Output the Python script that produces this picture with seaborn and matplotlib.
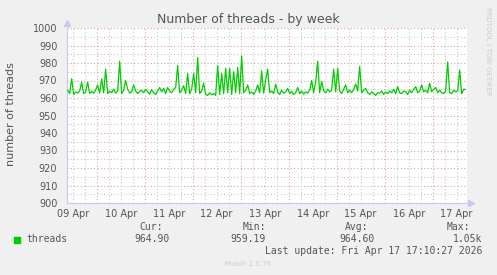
import matplotlib
matplotlib.use("Agg")
import matplotlib.pyplot as plt
import matplotlib.ticker as mticker
import numpy as np
import pandas as pd
import seaborn as sns

# ---------------- data ----------------
# hourly samples, hours since 09 Apr 00:00, starting at 09:30
start_hour = 9.5
threads = [
    964.5, 962.5, 971.0, 962.0, 963.5, 962.8, 964.0, 969.0, 962.5, 963.5,
    969.0, 962.5, 963.8, 962.7, 964.5, 967.5, 962.8, 971.0, 963.0, 976.5,
    962.5, 964.0, 963.0, 965.0, 962.8, 964.0, 981.0, 962.5, 964.5, 970.0,
    965.0, 962.8, 963.5, 967.5, 964.0, 962.5, 963.8, 964.5, 963.0, 965.0,
    963.5, 962.2, 964.8, 963.0, 962.0, 964.0, 966.0, 963.5, 965.5, 962.5,
    966.0, 964.0, 963.0, 965.0, 966.0, 978.5, 963.0, 964.5, 967.0, 962.5,
    974.0, 962.5, 965.0, 974.0, 963.0, 983.0, 962.5, 964.0, 968.5, 962.0,
    961.5, 963.0, 961.8, 962.5, 961.5, 978.5, 962.0, 974.0, 962.5, 977.0,
    963.0, 977.0, 962.0, 975.0, 963.0, 977.5, 962.5, 984.0, 963.0, 964.5,
    967.5, 962.5, 963.5, 962.0, 964.0, 967.5, 963.0, 975.5, 962.8, 970.0,
    976.5, 963.0, 964.0, 962.5, 968.0, 963.5, 962.0, 964.5, 962.8, 963.5,
    965.5, 962.5, 963.8, 962.0, 963.0, 966.0, 962.5, 964.0, 962.2, 963.5,
    962.8, 964.5, 970.0, 963.0, 969.0, 981.0, 963.0, 969.5, 964.0, 963.0,
    965.0, 963.5, 964.5, 976.5, 963.5, 977.0, 964.0, 962.5, 965.0, 967.5,
    963.0, 964.5, 963.0, 965.0, 968.0, 964.0, 978.0, 963.0, 964.5, 965.5,
    963.0, 962.0, 963.5, 962.5, 961.5, 963.0, 962.8, 964.0, 962.0, 963.5,
    962.5, 964.0, 963.0, 965.0, 962.5, 966.5, 963.0, 962.5, 964.0, 963.5,
    962.0, 964.5, 963.0, 965.0, 966.5, 963.0, 964.0, 967.5, 963.5, 964.5,
    963.0, 968.5, 963.5, 965.0, 966.0, 963.0, 964.5, 963.0, 962.5, 964.0,
    980.5, 963.0, 962.5, 964.5, 963.5, 964.0, 976.0, 962.5, 965.0, 964.9,
]
hours = [start_hour + i for i in range(len(threads))]

day_labels = ["09 Apr", "10 Apr", "11 Apr", "12 Apr", "13 Apr",
              "14 Apr", "15 Apr", "16 Apr", "17 Apr"]
y_ticks = [900, 910, 920, 930, 940, 950, 960, 970, 980, 990, 1000]

legend_name = "threads"
stat_headers = ["Cur:", "Min:", "Avg:", "Max:"]
stat_values = ["964.90", "959.19", "964.60", "1.05k"]
title = "Number of threads - by week"
ylabel = "number of threads"
last_update = "Last update: Fri Apr 17 17:10:27 2026"
version = "Munin 2.0.76"
side_text = "RRDTOOL / TOBI OETIKER"

df = pd.DataFrame({"hour": hours, "threads": threads})

# ---------------- figure ----------------
sns.set_theme(style="white")
plt.rcParams["font.family"] = ["DejaVu Sans"]

W, H = 497, 275
fig = plt.figure(figsize=(W / 100, H / 100), dpi=100, facecolor="#F0F0F0")
L, R, T, B = 67, 467, 28, 203
ax = fig.add_axes([L / W, 1 - B / H, (R - L) / W, (B - T) / H])
ax.set_facecolor("white")

sns.lineplot(data=df, x="hour", y="threads", ax=ax, color="#00CC00",
             linewidth=0.9, zorder=3)

x_left = 9.17
x_right = 209.17
ax.set_xlim(x_left, x_right)
ax.set_ylim(900, 1000)

# grid
ax.xaxis.set_major_locator(mticker.MultipleLocator(24))
ax.xaxis.set_minor_locator(mticker.MultipleLocator(6))
ax.xaxis.set_major_formatter(mticker.NullFormatter())

def minor_fmt(v, pos):
    if abs((v - 12) % 24) < 1e-6:
        k = int(round((v - 12) / 24))
        if 0 <= k < len(day_labels):
            return day_labels[k]
    return ""

ax.xaxis.set_minor_formatter(mticker.FuncFormatter(minor_fmt))
ax.yaxis.set_major_locator(mticker.FixedLocator(y_ticks))
ax.yaxis.set_minor_locator(mticker.MultipleLocator(5))

major_c = "#E0A0A0"
minor_c = "#C6C6C6"
ax.grid(which="major", color=major_c, linestyle=(0, (1, 2)), linewidth=0.8, zorder=1)
ax.grid(which="minor", color=minor_c, linestyle=(0, (1, 2)), linewidth=0.8, zorder=1)
ax.set_axisbelow(True)

txt_c = "#555555"
ax.tick_params(axis="y", which="major", labelsize=7, labelcolor=txt_c,
               length=2, color=major_c, pad=5, direction="out")
ax.tick_params(axis="y", which="minor", length=1.5, color=minor_c, direction="out")
ax.tick_params(axis="x", which="minor", labelsize=7, labelcolor=txt_c,
               length=1.5, color=minor_c, pad=3, direction="out")
ax.tick_params(axis="x", which="major", length=2, color=major_c, direction="out")

for s in ["top", "right"]:
    ax.spines[s].set_visible(False)
axis_c = "#C8C8F0"
for s in ["left", "bottom"]:
    ax.spines[s].set_color(axis_c)
    ax.spines[s].set_linewidth(0.8)

# arrows
ax.plot([0], [1.0 + 5 / (B - T)], marker="^", markersize=4, color=axis_c,
        transform=ax.transAxes, clip_on=False)
ax.plot([1.0 + 4 / (R - L)], [0], marker=">", markersize=4, color=axis_c,
        transform=ax.transAxes, clip_on=False)

ax.set_xlabel("")
ax.set_ylabel("")

# texts
fig.text(248 / W, 1 - 19 / H, title, ha="center", va="center",
         fontsize=9, color=txt_c)
fig.text(11 / W, 1 - 114 / H, ylabel, ha="center", va="center",
         rotation=90, fontsize=8, color=txt_c)
fig.text(488 / W, 1 - 7 / H, side_text, ha="center", va="top",
         rotation=270, fontsize=5, color="#CCCCCC")

mono = "DejaVu Sans Mono"
fig.patches.append(plt.Rectangle((14 / W, 1 - 243 / H), 6 / W, 6 / H,
                                 transform=fig.transFigure, color="#00CC00"))
fig.text(26 / W, 1 - 239 / H, legend_name, ha="left", va="center",
         fontsize=7, color=txt_c, family=mono)

head_x = [163, 266, 368, 470]
val_x = [170, 266, 375, 482]
for hx, vx, h, v in zip(head_x, val_x, stat_headers, stat_values):
    fig.text(hx / W, 1 - 227 / H, h, ha="right", va="center",
             fontsize=7, color=txt_c, family=mono)
    fig.text(vx / W, 1 - 239 / H, v, ha="right", va="center",
             fontsize=7, color=txt_c, family=mono)
fig.text(482 / W, 1 - 251 / H, last_update, ha="right", va="center",
         fontsize=7, color=txt_c, family=mono)
fig.text(248 / W, 1 - 264 / H, version, ha="center", va="center",
         fontsize=5, color="#CCCCCC")

fig.savefig("out.png", dpi=100, facecolor=fig.get_facecolor())
